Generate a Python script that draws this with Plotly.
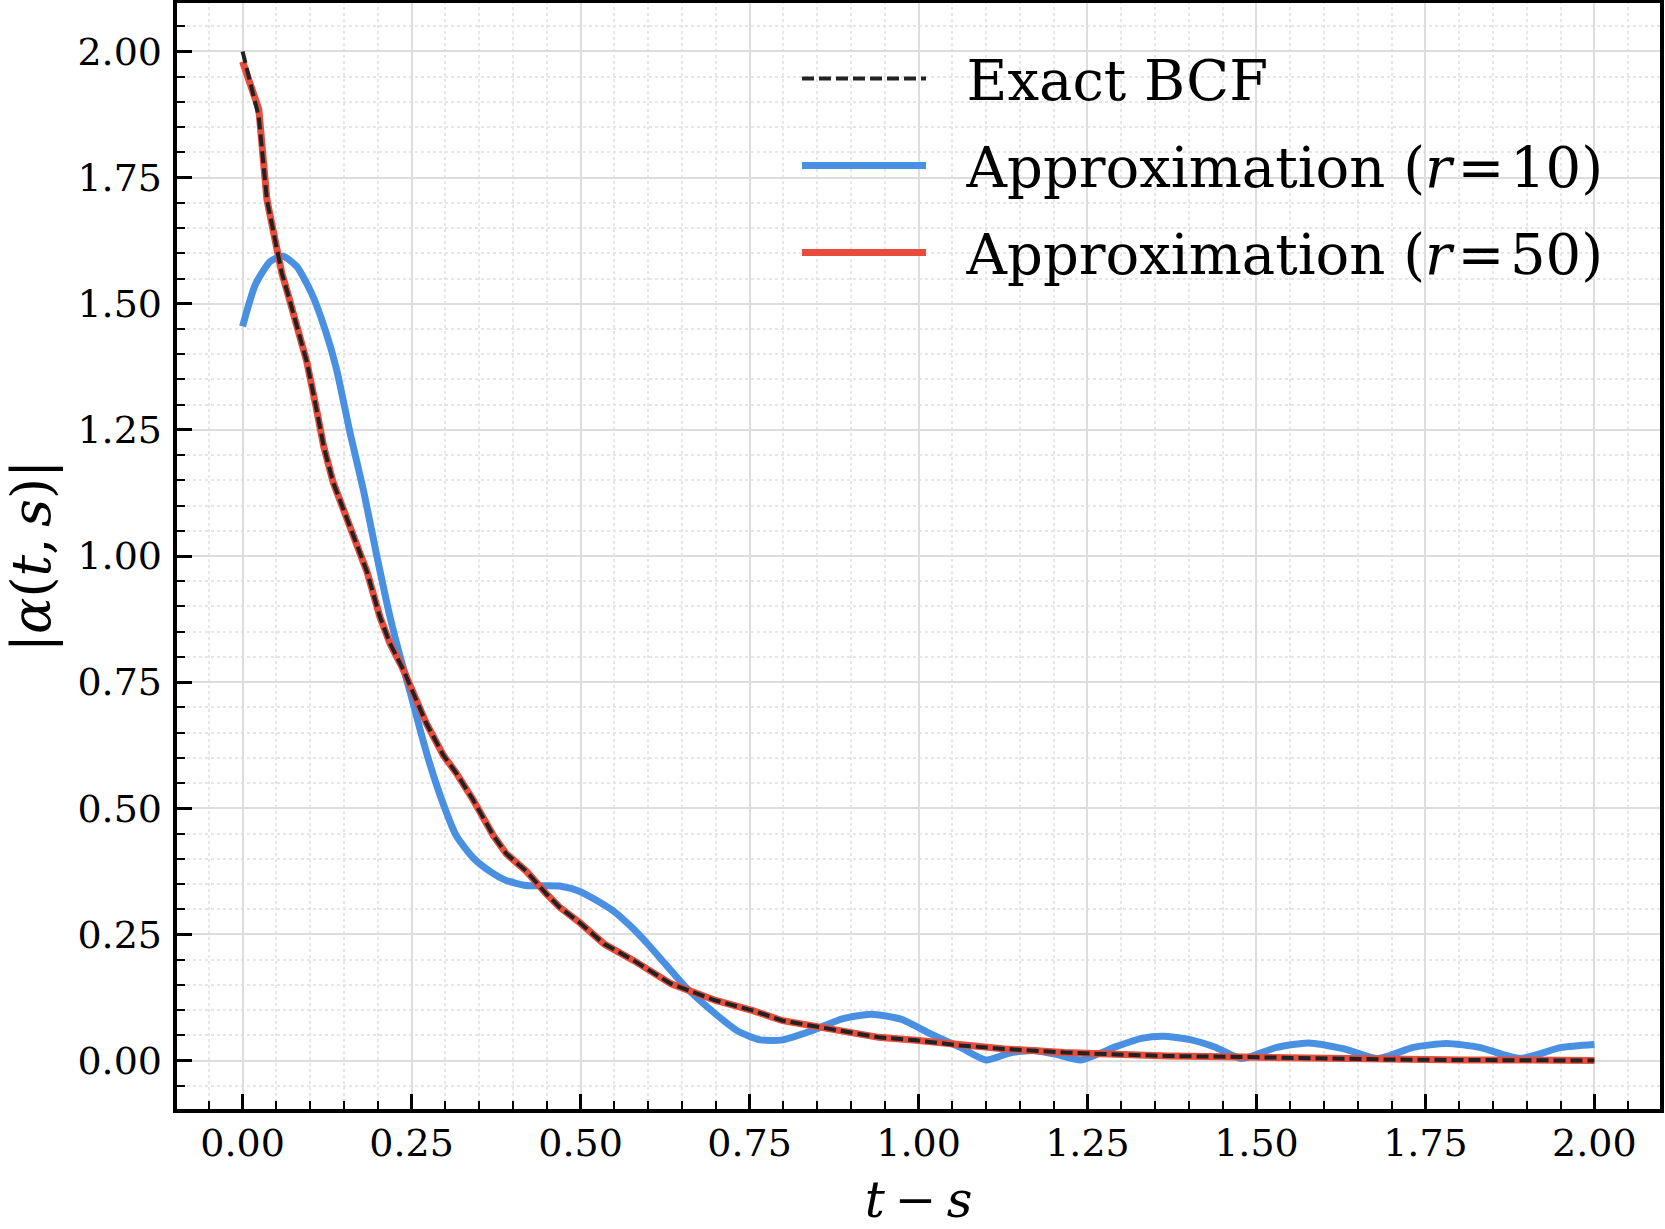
import plotly.graph_objects as go

# ---------------- data ----------------
t_exact = [0.000, 0.012, 0.024, 0.036, 0.048, 0.058, 0.068, 0.080, 0.095, 0.108,
           0.120, 0.134, 0.147, 0.164, 0.184, 0.203, 0.218, 0.238, 0.252, 0.272,
           0.297, 0.316, 0.341, 0.371, 0.390, 0.420, 0.449, 0.469, 0.499, 0.535,
           0.579, 0.634, 0.700, 0.755, 0.799, 0.842, 0.886, 0.941, 0.996, 1.062,
           1.128, 1.216, 1.293, 1.369, 1.479, 1.589, 1.699, 1.808, 1.900, 2.000]
y_exact = [2.000, 1.935, 1.870, 1.706, 1.627, 1.561, 1.515, 1.455, 1.385, 1.300,
           1.217, 1.146, 1.102, 1.040, 0.969, 0.880, 0.827, 0.774, 0.730, 0.668,
           0.605, 0.570, 0.517, 0.446, 0.410, 0.375, 0.331, 0.304, 0.273, 0.231,
           0.198, 0.152, 0.119, 0.099, 0.079, 0.069, 0.059, 0.046, 0.040, 0.030,
           0.023, 0.016, 0.012, 0.009, 0.007, 0.004, 0.002, 0.001, 0.001, 0.000]

t_r50 = [0.000, 0.012, 0.024, 0.036, 0.048, 0.058, 0.068, 0.080, 0.095, 0.108,
         0.120, 0.134, 0.147, 0.164, 0.184, 0.203, 0.218, 0.238, 0.252, 0.272,
         0.297, 0.316, 0.341, 0.371, 0.390, 0.420, 0.449, 0.469, 0.499, 0.535,
         0.579, 0.634, 0.700, 0.755, 0.799, 0.842, 0.886, 0.941, 0.996, 1.062,
         1.128, 1.216, 1.293, 1.369, 1.479, 1.589, 1.699, 1.808, 1.900, 2.000]
y_r50 = [1.980, 1.935, 1.885, 1.706, 1.627, 1.561, 1.515, 1.455, 1.385, 1.300,
         1.217, 1.146, 1.102, 1.040, 0.969, 0.880, 0.827, 0.774, 0.730, 0.668,
         0.605, 0.570, 0.517, 0.446, 0.410, 0.375, 0.331, 0.304, 0.273, 0.231,
         0.198, 0.152, 0.119, 0.099, 0.079, 0.069, 0.059, 0.046, 0.040, 0.030,
         0.023, 0.016, 0.012, 0.009, 0.007, 0.004, 0.002, 0.001, 0.001, 0.000]

t_r10 = [0.000, 0.019, 0.041, 0.060, 0.080, 0.102, 0.122, 0.139, 0.159, 0.179,
         0.198, 0.218, 0.233, 0.248, 0.262, 0.277, 0.297, 0.316, 0.341, 0.366,
         0.390, 0.420, 0.469, 0.499, 0.524, 0.550, 0.575, 0.600, 0.625, 0.656,
         0.700, 0.733, 0.766, 0.799, 0.842, 0.886, 0.930, 0.974, 1.018, 1.062,
         1.100, 1.135, 1.170, 1.205, 1.240, 1.293, 1.330, 1.362, 1.400, 1.440,
         1.478, 1.530, 1.577, 1.630, 1.680, 1.732, 1.781, 1.830, 1.890, 1.951,
         2.000]
y_r10 = [1.455, 1.538, 1.584, 1.594, 1.574, 1.521, 1.449, 1.370, 1.244, 1.129,
         1.004, 0.880, 0.801, 0.730, 0.659, 0.588, 0.508, 0.446, 0.402, 0.375,
         0.357, 0.347, 0.346, 0.335, 0.317, 0.295, 0.265, 0.230, 0.192, 0.145,
         0.092, 0.058, 0.041, 0.041, 0.059, 0.082, 0.092, 0.082, 0.053, 0.026,
         0.001, 0.015, 0.020, 0.012, 0.001, 0.028, 0.044, 0.048, 0.042, 0.026,
         0.004, 0.026, 0.035, 0.023, 0.004, 0.026, 0.034, 0.026, 0.004, 0.026,
         0.032]

tick_vals = [0.00, 0.25, 0.50, 0.75, 1.00, 1.25, 1.50, 1.75, 2.00]
tick_text = ["0.00", "0.25", "0.50", "0.75", "1.00", "1.25", "1.50", "1.75", "2.00"]

name_exact = "Exact BCF"
name_r10 = "Approximation (<i>r</i>\u200a=\u200a10)"
name_r50 = "Approximation (<i>r</i>\u200a=\u200a50)"

# ---------------- figure ----------------
FONT = "DejaVu Serif"
W, H = 1665, 1229
ML, MR, MT, MB = 175, 3, 1, 118
GAP = "\u00a0\u00a0"

fig = go.Figure()
fig.add_trace(go.Scatter(x=t_r10, y=y_r10, mode="lines", name=GAP + name_r10,
                         line=dict(color="#4A90E2", width=7, shape="spline",
                                   smoothing=0.6),
                         legend="legend2"))
fig.add_trace(go.Scatter(x=t_r50, y=y_r50, mode="lines", name=GAP + name_r50,
                         line=dict(color="#E74C3C", width=7), legend="legend3"))
fig.add_trace(go.Scatter(x=t_exact, y=y_exact, mode="lines", name=GAP + name_exact,
                         line=dict(color="#222222", width=4, dash="12px,5px"),
                         legend="legend"))

pw = W - ML - MR
ph = H - MT - MB


def px_x(px):
    return (px - ML) / pw


def px_y(py):
    return 1 - (py - MT) / ph


axis_common = dict(
    tickmode="array", tickvals=tick_vals, ticktext=tick_text,
    ticks="inside", ticklen=17, tickwidth=3, tickcolor="black",
    showgrid=True, gridcolor="#dddddd", gridwidth=2,
    showline=False, zeroline=False,
    tickfont=dict(family=FONT, size=38, color="black"),
    minor=dict(dtick=0.05, tick0=0, ticks="inside", ticklen=10, tickwidth=2,
               tickcolor="black", showgrid=True, gridcolor="#e6e6e6",
               gridwidth=1.5, griddash="dot"),
)

fig.update_xaxes(range=[-0.1, 2.1], ticklabelstandoff=6,
                 title=dict(text="<i>t</i>\u2009\u2212\u2009<i>s</i>",
                            font=dict(family=FONT, size=50, color="black"),
                            standoff=54),
                 **axis_common)
fig.update_yaxes(range=[-0.1, 2.1], ticklabelstandoff=12,
                 title=dict(text="|<i>\u03b1</i>(<i>t</i>,\u2009<i>s</i>)|",
                            font=dict(family=FONT, size=54, color="black"),
                            standoff=24),
                 **axis_common)

fig.add_shape(type="rect", xref="paper", yref="paper", x0=0, x1=1, y0=0, y1=1,
              line=dict(color="black", width=4), fillcolor="rgba(0,0,0,0)",
              layer="above")

leg_common = dict(xref="paper", yref="paper", xanchor="left", yanchor="middle",
                  bgcolor="rgba(0,0,0,0)", borderwidth=0, itemwidth=124,
                  font=dict(family=FONT, size=56, color="black"))

fig.update_layout(
    width=W, height=H,
    margin=dict(l=ML, r=MR, t=MT, b=MB, autoexpand=False),
    paper_bgcolor="white", plot_bgcolor="white",
    font=dict(family=FONT, color="black"),
    showlegend=True,
    legend=dict(x=px_x(797), y=px_y(78.5), **leg_common),
    legend2=dict(x=px_x(797), y=px_y(165.6), **leg_common),
    legend3=dict(x=px_x(797), y=px_y(252.7), **leg_common),
)

fig.write_html("out.html")
